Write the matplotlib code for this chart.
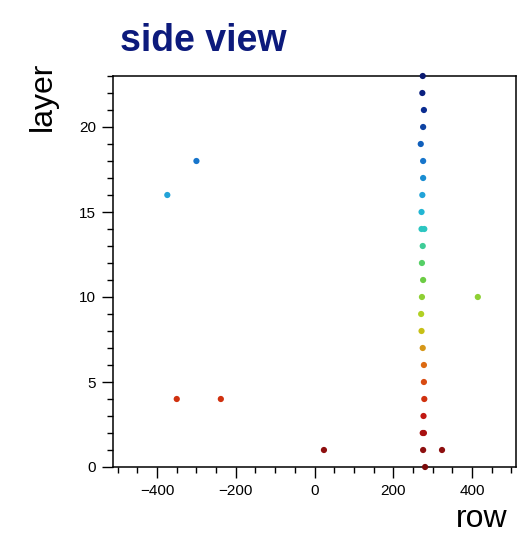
import numpy as np
import matplotlib
matplotlib.use('Agg')
import matplotlib.pyplot as plt
from matplotlib.colors import LinearSegmentedColormap
from matplotlib.ticker import MultipleLocator

plt.rcParams['font.family'] = ['Liberation Sans', 'DejaVu Sans']

# Hits: row position and layer number
row = [275, 274, 278, 276, 270, 276, 276, 274, 272, 272, 279, 275, 273,
       276, 273, 271, 272, 275, 278, 278, 279, 277, 275, 278, 276, 281,
       -300, -374, -350, -238, 24, 324, 415]
layer = [23, 22, 21, 20, 19, 18, 17, 16, 15, 14, 14, 13, 12,
         11, 10, 9, 8, 7, 6, 5, 4, 3, 2, 2, 1, 0,
         18, 16, 4, 4, 1, 1, 10]

x_ticks = [-400, -200, 0, 200, 400]
y_ticks = [0, 5, 10, 15, 20]

# Rainbow palette running from dark red (layer 0) to navy (top layer)
palette = ['#7a0a0a', '#8e0f0f', '#a81010', '#c21812', '#d0320f', '#d84c12',
           '#dc6c12', '#d69a18', '#c8c016', '#b2d024', '#8ed034', '#6ccc44',
           '#55cf66', '#3fcc98', '#2cc6c2', '#22b6d4', '#22a4d8', '#1a8ed2',
           '#1776cc', '#1060bc', '#0e44a2', '#0a2c90', '#0a2080', '#0a1a70']
cmap = LinearSegmentedColormap.from_list('layers', palette)

fig = plt.figure(figsize=(5.19, 5.34), dpi=100)
ax = fig.add_axes([113 / 519, 67 / 534, 403 / 519, 391 / 534])

ax.scatter(row, layer, c=layer, cmap=cmap, vmin=0, vmax=23, s=20,
           edgecolors='none', zorder=3, clip_on=False)

ax.set_xlim(-512, 512)
ax.set_ylim(0, 23)
ax.set_xticks(x_ticks)
ax.set_yticks(y_ticks)
ax.xaxis.set_minor_locator(MultipleLocator(50))
ax.yaxis.set_minor_locator(MultipleLocator(1))
ax.tick_params(which='major', length=8, width=1, labelsize=11, pad=4,
               direction='out')
ax.tick_params(which='minor', length=4, width=1, direction='out')
for s in ax.spines.values():
    s.set_linewidth(1.1)

fig.text(120 / 519, 1 - 51 / 534, 'side view', fontsize=27,
         fontweight='bold', color='#0c1a7c', ha='left', va='baseline')
fig.text(43 / 519, 1 - 62 / 534, 'layer', fontsize=23, rotation=90,
         ha='center', va='top')
fig.text(507 / 519, 1 - 527 / 534, 'row', fontsize=23,
         ha='right', va='baseline')

fig.savefig('out.png', dpi=100)
